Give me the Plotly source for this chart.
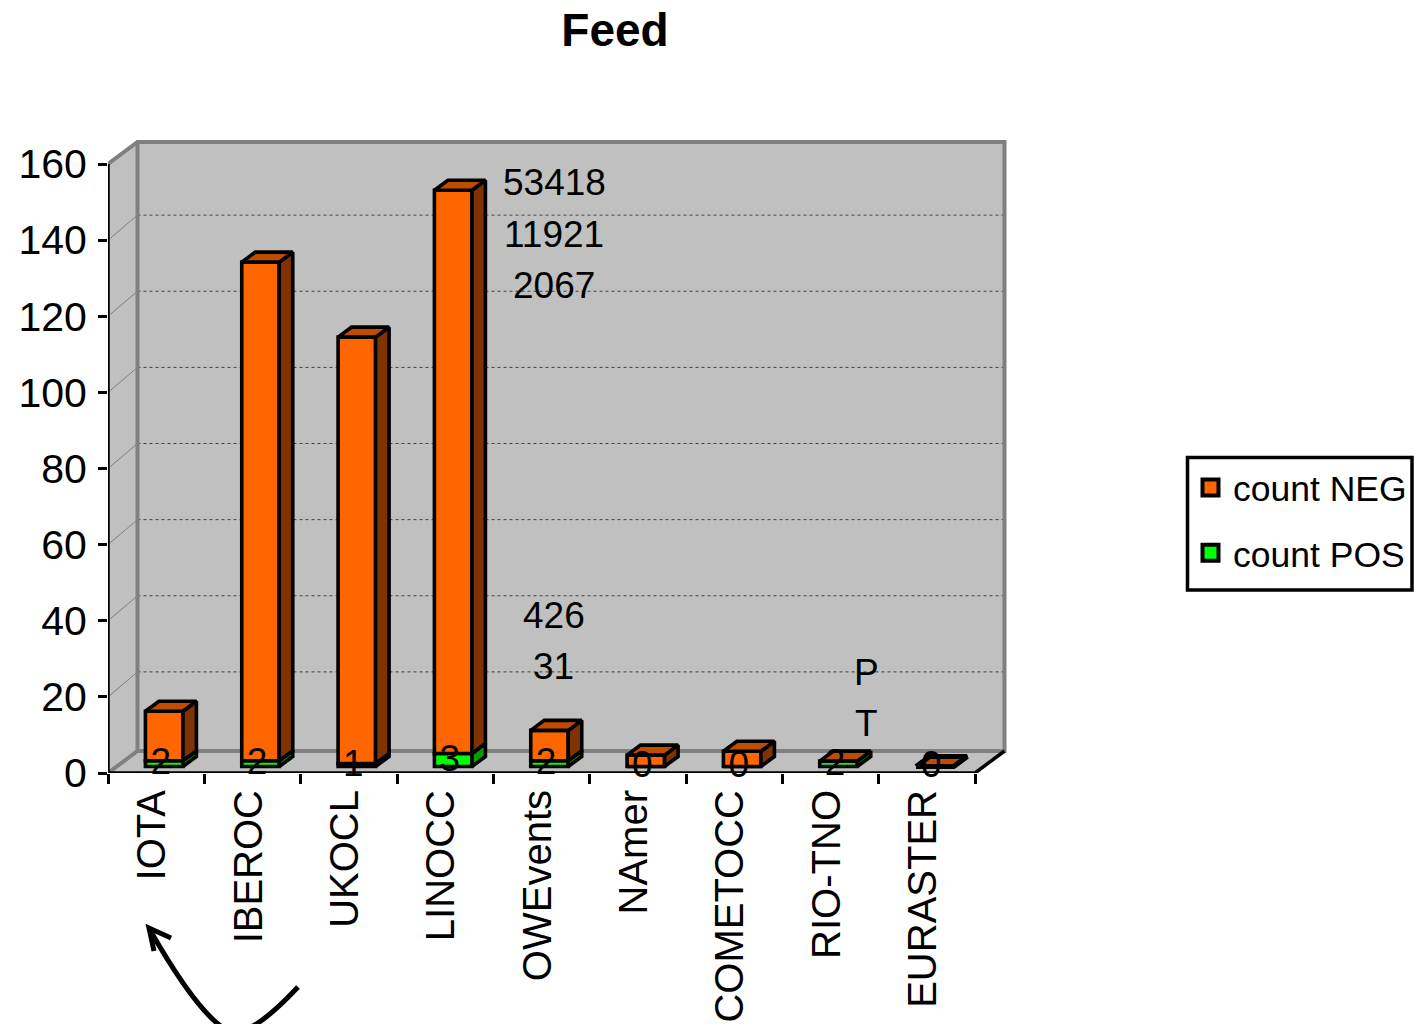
import plotly.graph_objects as go

TITLE = "Feed"
CATEGORIES = ["IOTA", "IBEROC", "UKOCL", "LINOCC", "OWEvents", "NAmer", "COMETOCC", "RIO-TNO", "EURASTER"]
COUNT_NEG = [13, 131, 112, 148, 8, 3, 4, 0, 0]
COUNT_POS = [1.5, 1.5, 0.8, 3.4, 1.5, 0, 0, 1.4, 0]
POS_LABELS = ["2", "2", "1", "3", "2", "0", "0", "2", "0"]
Y_TICKS = [0, 20, 40, 60, 80, 100, 120, 140, 160]

# free-floating notes: text, page x, page y
NOTE_TEXT = ["53418", "11921", "2067", "426", "31", "P", "T"]
NOTE_PX = [554, 554, 554, 554, 553, 866, 866]
NOTE_PY = [183, 234, 285, 615, 666, 672, 723]

W, H = 1422, 1024
L, R, T, B = 108, 1015, 130, 773
PX_X = 867 / 9
PX_Y = 609 / 160
FONT = "Liberation Sans"

X0 = -0.5
X1 = len(CATEGORIES) - 0.5
XMAX = X0 + (R - L) / PX_X
YMAX = (B - T) / PX_Y
DX = 29.5 / PX_X
DY = 22 / PX_Y
GRID_DY = 25 / PX_Y

BAR_W = 37.5 / PX_X
BAR_SHIFT = 8 / PX_X
BAR_BASE = 6.5 / PX_Y
BAR_DX = 13.5 / PX_X
BAR_DY = 10 / PX_Y
EDGE = 3.6

ORANGE, ORANGE_TOP, ORANGE_SIDE = "#FF6600", "#BF4D00", "#7F3300"
GREEN, GREEN_SIDE = "#00FF00", "#00A000"
WALL, WALL_EDGE = "#C0C0C0", "#808080"


def px(x):
    return (x - L) / (R - L)


def py(y):
    return (B - y) / (B - T)


def path(points):
    return "M " + " L ".join(f"{a} {b}" for a, b in points)


shapes = []


def wall(points, line=None, width=0, close=True, dash=None):
    p = path(points) + (" Z" if close else "")
    shapes.append(dict(type="path", path=p, xref="x", yref="y", layer="below",
                       fillcolor=WALL if close else "rgba(0,0,0,0)",
                       line=dict(color=line or "rgba(0,0,0,0)", width=width, dash=dash)))


top = Y_TICKS[-1]
wall([(X0 + DX, DY), (X1 + DX, DY), (X1 + DX, top + DY), (X0 + DX, top + DY)])
wall([(X0, 0), (X0 + DX, DY), (X0 + DX, top + DY), (X0, top)])
wall([(X0, 0), (X0 + DX, DY), (X1 + DX, DY), (X1, 0)])
for v in Y_TICKS[1:-1]:
    wall([(X0, v), (X0 + DX, v + GRID_DY)], line="#808080", width=1, close=False)
    wall([(X0 + DX, v + GRID_DY), (X1 + DX, v + GRID_DY)], line="#404040", width=1, close=False, dash="dot")
wall([(X0, top), (X0 + DX, top + DY), (X1 + DX, top + DY), (X1 + DX, DY), (X0 + DX, DY), (X0, 0)],
     line=WALL_EDGE, width=4, close=False)
wall([(X0 + DX, DY), (X0 + DX, top + DY)], line=WALL_EDGE, width=4, close=False)

# hand-drawn arrow below the axis
arrow_curve = (f"M {px(298)} {py(987)} C {px(265)} {py(1022)}, {px(240)} {py(1042)}, {px(218)} {py(1024)} "
               f"C {px(195)} {py(1005)}, {px(170)} {py(965)}, {px(150)} {py(930)}")
arrow_head = path([(px(171), py(938)), (px(149), py(928)), (px(154), py(951))])
for p in (arrow_curve, arrow_head):
    shapes.append(dict(type="path", path=p, xref="paper", yref="paper", layer="above",
                       line=dict(color="black", width=5)))

# legend frame
shapes.append(dict(type="rect", xref="paper", yref="paper", layer="above",
                   x0=px(1187.5), x1=px(1412), y0=py(590), y1=py(457.5),
                   line=dict(color="black", width=3.5)))

fig = go.Figure()
xs = [i + BAR_SHIFT for i in range(len(CATEGORIES))]
totals = [a + b for a, b in zip(COUNT_POS, COUNT_NEG)]

fig.add_trace(go.Bar(x=xs, y=COUNT_POS, base=[BAR_BASE] * len(xs), width=BAR_W,
                     marker=dict(color=GREEN, line=dict(color="black", width=EDGE)),
                     showlegend=False, hoverinfo="skip"))
fig.add_trace(go.Bar(x=xs, y=COUNT_NEG, base=[BAR_BASE + p for p in COUNT_POS], width=BAR_W,
                     marker=dict(color=ORANGE, line=dict(color="black", width=EDGE)),
                     showlegend=False, hoverinfo="skip"))


def poly(points, color, width):
    fig.add_trace(go.Scatter(x=[a for a, _ in points] + [points[0][0]],
                             y=[b for _, b in points] + [points[0][1]],
                             mode="lines", fill="toself", fillcolor=color,
                             line=dict(color="black", width=width), cliponaxis=False,
                             showlegend=False, hoverinfo="skip"))


for x, p, t in zip(xs, COUNT_POS, totals):
    xr = x + BAR_W / 2
    xl = x - BAR_W / 2
    y0, y1, y2 = BAR_BASE, BAR_BASE + p, BAR_BASE + t
    edge = EDGE if t > 0 else 5
    if p > 0:
        poly([(xr, y0), (xr + BAR_DX, y0 + BAR_DY), (xr + BAR_DX, y1 + BAR_DY), (xr, y1)], GREEN_SIDE, edge)
    poly([(xr, y1), (xr + BAR_DX, y1 + BAR_DY), (xr + BAR_DX, y2 + BAR_DY), (xr, y2)], ORANGE_SIDE, edge)
    poly([(xl, y2), (xr, y2), (xr + BAR_DX, y2 + BAR_DY), (xl + BAR_DX, y2 + BAR_DY)], ORANGE_TOP, edge)

# axis lines
for ax, ay in (([X0, X0], [0, top]), ([X0, X1], [0, 0]), ([X1, X1 + DX], [0, DY])):
    fig.add_trace(go.Scatter(x=ax, y=ay, mode="lines", line=dict(color="black", width=3.5),
                             cliponaxis=False, showlegend=False, hoverinfo="skip"))

# data labels of the POS series
fig.add_trace(go.Scatter(x=[x - 3.5 / PX_X for x in xs],
                         y=[BAR_BASE + p / 2 - 0.4 for p in COUNT_POS],
                         mode="text", text=POS_LABELS, textposition="middle center",
                         textfont=dict(family=FONT, size=37, color="black"),
                         cliponaxis=False, showlegend=False, hoverinfo="skip"))

# legend entries
for name, color in (("count NEG", ORANGE), ("count POS", GREEN)):
    fig.add_trace(go.Scatter(x=[None], y=[None], mode="markers", name=name, legendgroup=name,
                             marker=dict(symbol="square", size=16, color=color,
                                         line=dict(color="black", width=4))))

annotations = [dict(text=t, x=px(a), y=py(b), xref="paper", yref="paper", showarrow=False,
                    xanchor="center", yanchor="middle", font=dict(family=FONT, size=37, color="black"))
               for t, a, b in zip(NOTE_TEXT, NOTE_PX, NOTE_PY)]

fig.update_layout(
    width=W, height=H, autosize=False,
    margin=dict(l=L, r=W - R, t=T, b=H - B, pad=0, autoexpand=False),
    paper_bgcolor="white", plot_bgcolor="white",
    barmode="overlay",
    font=dict(family=FONT, color="black"),
    title=dict(text=f"<b>{TITLE}</b>", x=615 / W, xanchor="center", y=1 - 30 / H, yanchor="middle",
               font=dict(family=FONT, size=46, color="black")),
    xaxis=dict(range=[X0, XMAX], tickmode="array", tickvals=list(range(len(CATEGORIES))),
               ticktext=CATEGORIES, tickangle=-90, ticks="", showgrid=False, zeroline=False,
               showline=False, tickfont=dict(family=FONT, size=40, color="black"),
               ticklabelstandoff=8, ticklabelshift=-4, automargin=False,
               minor=dict(tickmode="array", tickvals=[i - 0.5 for i in range(len(CATEGORIES) + 1)],
                          ticks="outside", ticklen=10, tickwidth=3, tickcolor="black", showgrid=False)),
    yaxis=dict(range=[0, YMAX], tickmode="array", tickvals=Y_TICKS, ticks="outside", ticklen=9,
               tickwidth=3, tickcolor="black", showgrid=False, zeroline=False, showline=False,
               tickfont=dict(family=FONT, size=41, color="black"), ticklabelstandoff=3, automargin=False),
    legend=dict(x=1188 / W, y=1 - 458 / H, xref="container", yref="container", xanchor="left", yanchor="top",
                borderwidth=0, bgcolor="rgba(0,0,0,0)", itemwidth=35,
                font=dict(family=FONT, size=35.5, color="black"),
                tracegroupgap=16, itemclick=False, itemdoubleclick=False),
    shapes=shapes, annotations=annotations,
)

fig.write_html("out.html", post_script="document.body.style.margin='0';document.body.style.overflow='hidden';",
               config={"displayModeBar": False})
